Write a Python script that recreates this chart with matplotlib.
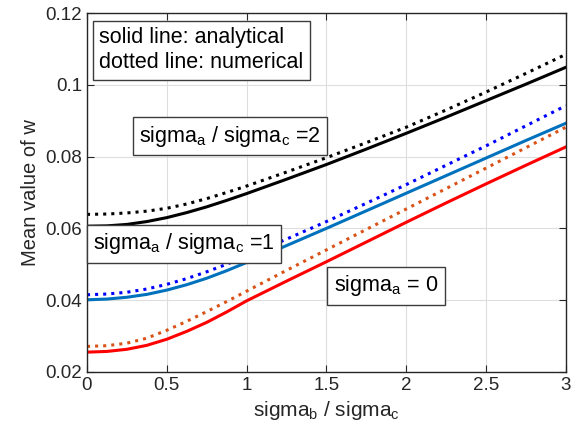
import numpy as np
import matplotlib.pyplot as plt

plt.rcParams['font.family'] = 'Liberation Sans'
plt.rcParams['mathtext.fontset'] = 'custom'
plt.rcParams['mathtext.rm'] = 'Liberation Sans'
plt.rcParams['mathtext.it'] = 'Liberation Sans'

# sigma_b / sigma_c
ratio_b = [0, 0.125, 0.25, 0.375, 0.5, 0.625, 0.75, 0.875, 1,
           1.25, 1.5, 1.75, 2, 2.25, 2.5, 2.75, 3]

# sigma_a / sigma_c = 2
w2_analytic = [0.0606, 0.0607, 0.0611, 0.0619, 0.0630, 0.0644, 0.0660, 0.0678, 0.0697,
               0.0737, 0.0778, 0.0821, 0.0865, 0.0910, 0.0956, 0.1002, 0.1049]
w2_numeric = [0.0639, 0.0640, 0.0643, 0.0648, 0.0656, 0.0668, 0.0683, 0.0700, 0.0718,
              0.0757, 0.0797, 0.0839, 0.0882, 0.0930, 0.0980, 0.1032, 0.1085]
# sigma_a / sigma_c = 1
w1_analytic = [0.0401, 0.0403, 0.0408, 0.0416, 0.0428, 0.0443, 0.0461, 0.0482, 0.0505,
               0.0552, 0.0600, 0.0649, 0.0698, 0.0747, 0.0796, 0.0845, 0.0893]
w1_numeric = [0.0415, 0.0417, 0.0422, 0.0431, 0.0444, 0.0460, 0.0479, 0.0500, 0.0523,
              0.0570, 0.0619, 0.0670, 0.0722, 0.0776, 0.0830, 0.0886, 0.0942]
# sigma_a = 0
w0_analytic = [0.0255, 0.0257, 0.0263, 0.0274, 0.0291, 0.0313, 0.0338, 0.0367, 0.0398,
               0.0453, 0.0507, 0.0562, 0.0617, 0.0671, 0.0724, 0.0776, 0.0827]
w0_numeric = [0.0271, 0.0273, 0.0280, 0.0294, 0.0316, 0.0341, 0.0368, 0.0396, 0.0425,
              0.0483, 0.0540, 0.0597, 0.0654, 0.0711, 0.0768, 0.0825, 0.0882]

fig = plt.figure(figsize=(5.78, 4.37), dpi=100)
ax = fig.add_axes([0.1505, 0.149, 0.8285, 0.821])

lw = 2.2
ax.plot(ratio_b, w2_analytic, color='k', lw=lw)
ax.plot(ratio_b, w2_numeric, color='k', lw=lw, ls=':')
ax.plot(ratio_b, w1_analytic, color=(0, 0.447, 0.741), lw=lw)
ax.plot(ratio_b, w1_numeric, color=(0, 0, 1), lw=lw, ls=':')
ax.plot(ratio_b, w0_analytic, color=(1, 0, 0), lw=lw)
ax.plot(ratio_b, w0_numeric, color=(0.85, 0.325, 0.098), lw=lw, ls=':')

ax.set_xlim(0, 3)
ax.set_ylim(0.02, 0.12)
ax.set_xticks([0, 0.5, 1, 1.5, 2, 2.5, 3])
ax.set_yticks([0.02, 0.04, 0.06, 0.08, 0.1, 0.12])
ax.set_xticklabels(['0', '0.5', '1', '1.5', '2', '2.5', '3'])
ax.set_yticklabels(['0.02', '0.04', '0.06', '0.08', '0.1', '0.12'])
ax.tick_params(direction='in', top=True, right=True, labelsize=13.5, colors='#262626', length=5)
ax.grid(True, color='#dedede', lw=0.8)
ax.set_axisbelow(True)
for s in ax.spines.values():
    s.set_color('#262626')
    s.set_linewidth(1)

ax.set_xlabel('sigma$_\\mathregular{b}$ / sigma$_\\mathregular{c}$', fontsize=15, color='#262626')
ax.set_ylabel('Mean value of w', fontsize=14.5, color='#262626')

box = dict(boxstyle='square,pad=0.3', fc='white', ec='#3c3c3c', lw=1)
ax.text(0.075, 0.1096, 'solid line: analytical\ndotted line: numerical', fontsize=15.5,
        va='center', ha='left', bbox=box, linespacing=1.25)
ax.text(0.326, 0.0857, 'sigma$_\\mathregular{a}$ / sigma$_\\mathregular{c}$ =2', fontsize=15.5,
        va='center', ha='left', bbox=box)
ax.text(0.038, 0.0557, 'sigma$_\\mathregular{a}$ / sigma$_\\mathregular{c}$ =1', fontsize=15.5,
        va='center', ha='left', bbox=box)
ax.text(1.547, 0.0440, 'sigma$_\\mathregular{a}$ = 0', fontsize=15.5,
        va='center', ha='left', bbox=box)

fig.savefig('out.png', dpi=100)
